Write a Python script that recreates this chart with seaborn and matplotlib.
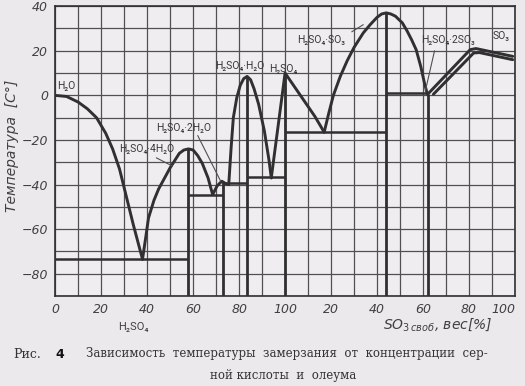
import numpy as np
import pandas as pd
import matplotlib
matplotlib.use("Agg")
import matplotlib.pyplot as plt
import seaborn as sns

# freezing curve, split into branches (x: 0-100 = % H2SO4, 100-200 = 100 + % free SO3)
branches = {
    "ice": ([0, 5, 10, 14, 18, 22, 25, 28, 31, 34, 38],
            [0, -0.5, -3, -6, -10, -17, -24, -33, -45.5, -58, -73.5]),
    "4H2O": ([38, 39.5, 40.6, 43, 45, 50, 54, 56, 58, 60, 62, 64, 66.5, 68.5],
             [-73.5, -63, -55, -47, -42, -32.5, -26, -24.5, -24, -24.5, -27, -30.5, -37, -44.5]),
    "2H2O": ([68.5, 70.5, 72.5, 74, 75.5],
             [-44.5, -40.5, -38.5, -39.5, -40]),
    "H2O": ([75.5, 76.5, 77.5, 79, 80.5, 82, 83.5, 85, 86.5, 88.5, 91, 93, 94],
            [-40, -24, -10, -1, 4.5, 7.5, 8.5, 7, 3, -4, -16, -29, -37]),
    "H2SO4": ([94, 100, 104, 108, 113, 117],
              [-37, 10, 4, -2, -9.5, -16.5]),
    "SO3": ([117, 119, 121, 124, 127, 130, 134, 137, 140, 142, 144, 146, 148, 151, 153,
             155, 157, 159, 160.5, 161.5, 162],
            [-16.5, -8, 0, 8.5, 15.5, 21.5, 28, 31.7, 35, 36.5, 37, 36.5, 35.5, 32.5, 29,
             25, 20.5, 13, 6, 2, 0.5]),
    "2SO3_a": ([162, 180.5, 183, 199], [0.5, 20.5, 21, 17.5]),
    "2SO3_b": ([164.5, 182, 184.5, 199], [0.5, 19, 19.2, 16]),
}

# compounds: vertical lines (x, top) and eutectic horizontals (y, x0, x1)
vert_x = [58, 73, 83.5, 100, 144, 162]
vert_top = [-24, -38.5, 8.5, 10, 37, 0.5]
eut_y = [-73.5, -44.5, -39.5, -36.5, -16.5, 1]
eut_x0 = [0, 58, 73, 83.5, 100, 144]
eut_x1 = [58, 73, 83.5, 100, 144, 162]

tick_pos = [0, 20, 40, 60, 80, 100, 120, 140, 160, 180, 200]
tick_lab = ["0", "20", "40", "60", "80", "100", "20", "40", "60", "80", "100"]
ytick_pos = [40, 20, 0, -20, -40, -60, -80]

labels = ["H₂O", "H₂SO₄·4H₂O", "H₂SO₄·2H₂O", "H₂SO₄·H₂O",
          "H₂SO₄", "H₂SO₄·SO₃", "H₂SO₄·2SO₃", "SO₃"]
label_x = [1, 40, 56, 80.5, 99, 115.5, 171, 194]
label_y = [4, -24, -14.5, 13, 12, 25, 25, 26.5]

sns.set_theme(style="white")
ink = "#303030"
paper = "#ebe9eb"
narrow = ["Roboto", "DejaVu Sans"]

fig = plt.figure(figsize=(5.25, 3.86), dpi=100, facecolor=paper)
ax = fig.add_axes([0.105, 0.233, 0.876, 0.751], facecolor="#efedef")

for name, (xs, ys) in branches.items():
    df = pd.DataFrame({"x": xs, "y": ys})
    sns.lineplot(data=df, x="x", y="y", ax=ax, color=ink, lw=2.1, sort=False,
                 estimator=None)

ax.vlines(vert_x, -90, vert_top, color=ink, lw=2)
ax.hlines(eut_y, eut_x0, eut_x1, color=ink, lw=1.8)

ax.set_xlim(0, 200)
ax.set_ylim(-90, 40)
ax.set_xticks(tick_pos)
ax.set_xticklabels(tick_lab)
ax.set_xticks(np.arange(0, 201, 10), minor=True)
ax.set_yticks(ytick_pos)
ax.set_yticks(np.arange(-90, 41, 10), minor=True)
ax.grid(True, which="both", color="#505050", lw=0.9)
ax.set_axisbelow(True)
ax.tick_params(length=0, labelsize=9, colors="#404040", pad=5)
for t in ax.get_xticklabels() + ax.get_yticklabels():
    t.set_style("italic")
ax.get_xticklabels()[-1].set_ha("right")
for s in ax.spines.values():
    s.set_color(ink)
    s.set_linewidth(1.2)
ax.set_xlabel("")
ax.set_ylabel("")

for txt, lx, ly in zip(labels, label_x, label_y):
    ha = "left" if lx < 5 else "center"
    ax.text(lx, ly, txt, ha=ha, va="center", fontsize=7.5, color="#383838",
            family=narrow)

# leader lines
ax.plot([44, 51], [-28, -31.7], color="#505050", lw=0.8)
ax.plot([62, 72], [-18, -38.5], color="#505050", lw=0.8)
ax.plot([129, 134], [28.5, 31.7], color="#505050", lw=0.8)
ax.plot([165, 161], [20, 2], color="#505050", lw=0.8)

fig.text(12 / 525, 1 - 146 / 386, "Температура  [C°]", rotation=90, ha="center",
         va="center", fontsize=10, style="italic", color="#404040")
fig.text(133 / 525, 1 - 327 / 386, "H₂SO₄", ha="center", va="center",
         fontsize=8, color="#404040", family=narrow)
fig.text(438 / 525, 1 - 325 / 386, "SO$_{3\\,своб}$, вес[%]", ha="center", va="center",
         fontsize=10, style="italic", color="#404040")

fig.text(13 / 525, 1 - 354 / 386, "Рис.", ha="left", va="center", fontsize=9,
         family="DejaVu Serif", color="#333333")
fig.text(55 / 525, 1 - 354 / 386, "4", ha="left", va="center", fontsize=9,
         weight="bold", color="#111111")
fig.text(86 / 525, 1 - 354 / 386,
         "Зависимость  температуры  замерзания  от  концентрации  сер-",
         ha="left", va="center", fontsize=8.5, family="DejaVu Serif", color="#333333")
fig.text(283 / 525, 1 - 376 / 386, "ной кислоты  и  олеума", ha="center", va="center",
         fontsize=8.5, family="DejaVu Serif", color="#333333")

fig.savefig("out.png", dpi=100, facecolor=paper)
